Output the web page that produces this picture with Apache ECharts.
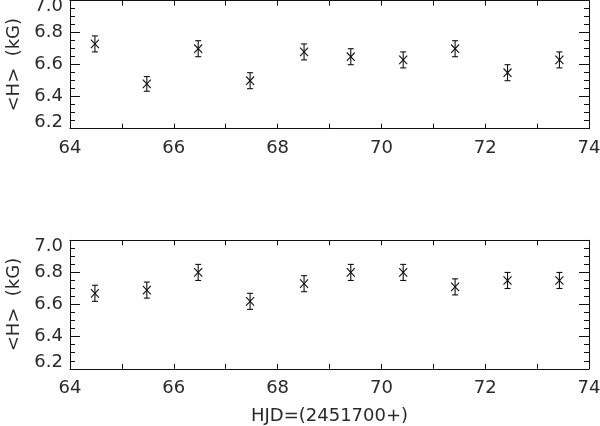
<!DOCTYPE html>
<html>
<head>
<meta charset="utf-8">
<script src="https://cdn.jsdelivr.net/npm/echarts@6/dist/echarts.min.js"></script>
<style>html,body{margin:0;padding:0;background:#fff}#c{width:600px;height:426px}</style>
</head>
<body>
<div id="c"></div>
<script>
// HJD - 2451700
const days = [64.48, 65.48, 66.47, 67.47, 68.51, 69.41, 70.42, 71.42, 72.43, 73.43];
// <H> (kG), first epoch set (top panel)
const fieldTop = [6.73, 6.48, 6.70, 6.50, 6.68, 6.65, 6.63, 6.70, 6.55, 6.63];
const errTop = [0.05, 0.046, 0.05, 0.05, 0.05, 0.05, 0.05, 0.05, 0.05, 0.05];
// <H> (kG), second set (bottom panel)
const fieldBottom = [6.67, 6.69, 6.80, 6.62, 6.73, 6.80, 6.80, 6.71, 6.75, 6.75];
const errBottom = [0.05, 0.05, 0.05, 0.05, 0.05, 0.05, 0.05, 0.05, 0.05, 0.05];
const xRange = [64, 74];
const yRange = [6.2, 7.0];
const xTitle = 'HJD=(2451700+)';
const yTitle = '<H>  (kG)';

const FONT = 'DejaVu Sans';
const TXT = '#2a2a2a';
const LINE = '#111';

function rows(h, e) { return days.map((d, i) => [d, h[i], e[i]]); }

function renderItem(params, api) {
  const x = api.value(0), y = api.value(1), e = api.value(2);
  const p = api.coord([x, y]);
  const pt = api.coord([x, y + e]);
  const pb = api.coord([x, y - e]);
  const st = { stroke: LINE, lineWidth: 1.1 };
  const cw = 3, mx = 4, my = 4.2;
  return {
    type: 'group',
    children: [
      { type: 'line', shape: { x1: p[0], y1: pt[1], x2: p[0], y2: pb[1] }, style: st },
      { type: 'line', shape: { x1: p[0] - cw, y1: pt[1], x2: p[0] + cw, y2: pt[1] }, style: st },
      { type: 'line', shape: { x1: p[0] - cw, y1: pb[1], x2: p[0] + cw, y2: pb[1] }, style: st },
      { type: 'line', shape: { x1: p[0] - mx, y1: p[1] - my, x2: p[0] + mx, y2: p[1] + my }, style: st },
      { type: 'line', shape: { x1: p[0] - mx, y1: p[1] + my, x2: p[0] + mx, y2: p[1] - my }, style: st }
    ]
  };
}

const axisLine = { show: true, lineStyle: { color: LINE, width: 1 } };

function xAxis(grid, pos, labels, named) {
  return {
    type: 'value', gridIndex: grid, position: pos, min: xRange[0], max: xRange[1], interval: 2,
    axisLine: axisLine,
    axisTick: { show: true, inside: true, length: 5, lineStyle: { color: LINE } },
    minorTick: { show: true, splitNumber: 2, length: 5, lineStyle: { color: LINE } },
    splitLine: { show: false },
    axisLabel: { show: labels, margin: 11, fontFamily: FONT, fontSize: 18, color: TXT },
    name: named ? xTitle : '', nameLocation: 'middle', nameGap: 39,
    nameTextStyle: { fontFamily: FONT, fontSize: 18, color: TXT }
  };
}

function yLabelFmt(v) {
  const s = v.toFixed(1);
  if (Math.abs(v - yRange[1]) < 1e-6) return '{hi|' + s + '}';
  if (Math.abs(v - yRange[0]) < 1e-6) return '{lo|' + s + '}';
  return s;
}

function yAxis(grid, pos, labels) {
  const rs = { fontFamily: FONT, fontSize: 18, color: TXT };
  return {
    type: 'value', gridIndex: grid, position: pos, min: yRange[0], max: yRange[1], interval: 0.2,
    axisLine: axisLine,
    axisTick: { show: true, inside: true, length: 10, lineStyle: { color: LINE } },
    minorTick: { show: true, splitNumber: 4, length: 5, lineStyle: { color: LINE } },
    splitLine: { show: false },
    axisLabel: {
      show: labels, margin: 7, fontFamily: FONT, fontSize: 18, color: TXT,
      formatter: yLabelFmt,
      rich: {
        hi: Object.assign({ padding: [12, 0, 0, 0] }, rs),
        lo: Object.assign({ padding: [0, 0, 12, 0] }, rs)
      }
    },
    name: labels ? yTitle : '', nameLocation: 'middle', nameGap: 47,
    nameTextStyle: { fontFamily: FONT, fontSize: 18, color: TXT }
  };
}

const chart = echarts.init(document.getElementById('c'), null, { renderer: 'canvas' });
chart.setOption({
  animation: false,
  backgroundColor: '#fff',
  grid: [
    { left: 70, width: 519, top: 0.7, height: 128, containLabel: false, outerBoundsMode: 'none' },
    { left: 70, width: 519, top: 240.3, height: 128.5, containLabel: false, outerBoundsMode: 'none' }
  ],
  xAxis: [
    xAxis(0, 'bottom', true, false),
    xAxis(0, 'top', false, false),
    xAxis(1, 'bottom', true, true),
    xAxis(1, 'top', false, false)
  ],
  yAxis: [
    yAxis(0, 'left', true),
    yAxis(0, 'right', false),
    yAxis(1, 'left', true),
    yAxis(1, 'right', false)
  ],
  series: [
    { type: 'custom', xAxisIndex: 0, yAxisIndex: 0, renderItem: renderItem, data: rows(fieldTop, errTop), clip: false },
    { type: 'custom', xAxisIndex: 2, yAxisIndex: 2, renderItem: renderItem, data: rows(fieldBottom, errBottom), clip: false }
  ]
});
</script>
</body>
</html>
